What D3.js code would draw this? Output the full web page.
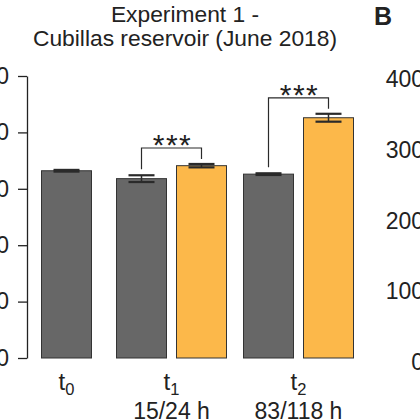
<!DOCTYPE html>
<html lang="en">
<head>
<meta charset="UTF-8">
<title>Experiment 1 - Cubillas reservoir</title>
<style>
body { margin: 0; background: #fff; }
svg text { font-family: "Liberation Sans", Arial, sans-serif; fill: #222; }
.bar { stroke: #333; stroke-width: 1px; }
.err, .bracket { stroke: #2a2a2a; fill: none; }
</style>
</head>
<body>
<script src="https://cdnjs.cloudflare.com/ajax/libs/d3/7.8.5/d3.min.js"></script>
<script>
// time points and their values (control = grey, treatment = orange)
var groups = ["t0", "t1", "t2"];
var groupSub = ["0", "1", "2"];
var groupHours = ["", "15/24 h", "83/118 h"];
var controlMean = [332, 318, 326];
var controlSE = [1.5, 6, 1.5];
var treatMean = [null, 341, 426];
var treatSE = [null, 3, 7];
var signif = ["", "***", "***"];
var yTicks = [0, 100, 200, 300, 400, 500];
var bTicks = [0, 100, 200, 300, 400];
var titleLines = ["Experiment 1 -", "Cubillas reservoir (June 2018)"];

var width = 420, height = 420;
var svg = d3.select("body").append("svg")
  .attr("width", width).attr("height", height);

var y = d3.scaleLinear().domain([0, 500]).range([358, 76]);
var yB = d3.scaleLinear().domain([0, 400]).range([362, 79]);
var xc = d3.scaleOrdinal().domain(groups).range([66.5, 171.5, 298.5]);
var barW = 50, gap = 10, capW = 26;

// build bar list
var bars = [];
groups.forEach(function (g, i) {
  if (treatMean[i] == null) {
    bars.push({ g: g, kind: "c", mean: controlMean[i], se: controlSE[i], x: xc(g) - barW / 2 });
  } else {
    bars.push({ g: g, kind: "c", mean: controlMean[i], se: controlSE[i], x: xc(g) - gap / 2 - barW });
    bars.push({ g: g, kind: "t", mean: treatMean[i], se: treatSE[i], x: xc(g) + gap / 2 });
  }
});

// title
svg.selectAll("text.title").data(titleLines).enter().append("text")
  .attr("class", "title").attr("text-anchor", "middle").style("font-size", "22.8px")
  .attr("x", 185).attr("y", (d, i) => 22 + i * 24).text(d => d);

// y axis (R style: outward ticks, line from first to last tick)
var axis = svg.append("g").attr("transform", "translate(27,0)")
  .call(d3.axisLeft(y).tickValues(yTicks).tickSize(9).tickPadding(9).tickSizeOuter(0));
axis.select(".domain").attr("stroke", "#222").attr("stroke-width", 1.3);
axis.selectAll(".tick line").attr("stroke", "#222").attr("stroke-width", 1.3);
axis.selectAll(".tick text").style("font-size", "23px").attr("fill", "#222")
  .attr("font-family", "Liberation Sans, Arial, sans-serif");

// bars
svg.selectAll("rect.bar").data(bars).enter().append("rect")
  .attr("class", "bar")
  .attr("x", d => d.x).attr("width", barW)
  .attr("y", d => y(d.mean)).attr("height", d => y(0) - y(d.mean))
  .attr("fill", d => d.kind === "c" ? "#676767" : "#fcb84a");

// error bars
var err = svg.selectAll("g.errg").data(bars).enter().append("g").attr("class", "errg");
err.append("line").attr("class", "err").attr("stroke-width", 1.5)
  .attr("x1", d => d.x + barW / 2).attr("x2", d => d.x + barW / 2)
  .attr("y1", d => y(d.mean + d.se)).attr("y2", d => y(d.mean - d.se));
err.append("line").attr("class", "err").attr("stroke-width", 2.2)
  .attr("x1", d => d.x + barW / 2 - capW / 2).attr("x2", d => d.x + barW / 2 + capW / 2)
  .attr("y1", d => y(d.mean + d.se)).attr("y2", d => y(d.mean + d.se));
err.append("line").attr("class", "err").attr("stroke-width", 2.2)
  .attr("x1", d => d.x + barW / 2 - capW / 2).attr("x2", d => d.x + barW / 2 + capW / 2)
  .attr("y1", d => y(d.mean - d.se)).attr("y2", d => y(d.mean - d.se));

// significance brackets
groups.forEach(function (g, i) {
  if (!signif[i]) return;
  var cx = xc(g) - gap / 2 - barW / 2, tx = xc(g) + gap / 2 + barW / 2;
  var cTop = y(controlMean[i] + controlSE[i]), tTop = y(treatMean[i] + treatSE[i]);
  var top = Math.min(cTop, tTop) - 16;
  svg.append("path").attr("class", "bracket").attr("stroke-width", 1.2)
    .attr("d", "M" + cx + "," + (cTop - 6) + "V" + top + "H" + tx + "V" + (tTop - 5));
  svg.append("text").attr("x", (cx + tx) / 2 + 1).attr("y", top + 7)
    .attr("text-anchor", "middle").style("font-size", "30px").style("letter-spacing", "1.5px")
    .text(signif[i]);
});

// x labels
groups.forEach(function (g, i) {
  var t = svg.append("text").attr("x", xc(g)).attr("y", 390)
    .attr("text-anchor", "middle").style("font-size", "24px");
  t.append("tspan").text("t");
  t.append("tspan").attr("dy", 5).style("font-size", "16.5px").text(groupSub[i]);
  if (groupHours[i]) {
    svg.append("text").attr("x", xc(g)).attr("y", 418.5)
      .attr("text-anchor", "middle").style("font-size", "23px").text(groupHours[i]);
  }
});

// neighbouring panel B (cut off at the right edge)
svg.append("text").attr("x", 374).attr("y", 25)
  .style("font-size", "25px").style("font-weight", "bold").text("B");
svg.selectAll("text.bt").data(bTicks).enter().append("text")
  .attr("class", "bt").attr("x", 424).attr("y", d => yB(d) + 8)
  .attr("text-anchor", "end").style("font-size", "23px").text(d => d);
</script>
</body>
</html>
